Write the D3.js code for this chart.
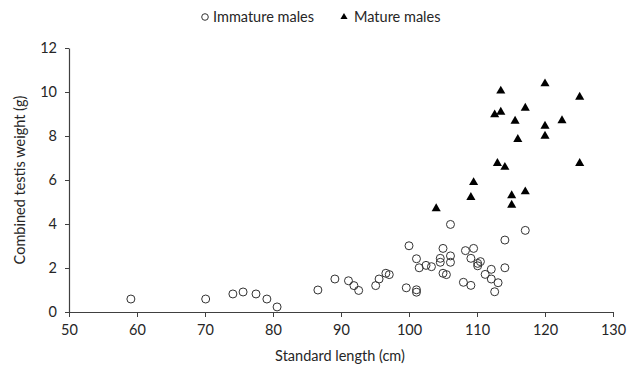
<!DOCTYPE html>
<html>
<head>
<meta charset="utf-8">
<script src="https://cdn.jsdelivr.net/npm/d3@7"></script>
<style>
  body { margin: 0; background: #fff; }
  text { font-family: Lato, "Open Sans", sans-serif; fill: #262626; }
</style>
</head>
<body>
<svg></svg>
<script>
const width = 627;
const height = 371;

// immature males: standard length (cm), combined testis weight (g)
const immatureLength = [59.1, 70.1, 74.1, 75.6, 77.5, 79.1, 80.6, 86.6, 89.1, 91.1, 91.9, 92.6,
    95.1, 95.6, 96.6, 97.1, 99.6, 100.0, 101.1, 101.1, 101.1, 101.5, 102.5, 103.3,
    104.6, 104.6, 105.0, 105.0, 105.5, 106.1, 106.1, 106.1, 108.0, 108.3, 109.1, 109.1,
    109.5, 110.1, 110.1, 110.5, 111.2, 112.1, 112.1, 112.6, 113.1, 114.1, 114.1, 117.1];
const immatureWeight = [0.59, 0.59, 0.82, 0.91, 0.82, 0.59, 0.23, 1.0, 1.5, 1.42, 1.2, 0.98,
    1.2, 1.5, 1.76, 1.7, 1.1, 3.01, 2.42, 1.01, 0.9, 2.01, 2.12, 2.06,
    2.44, 2.26, 2.89, 1.76, 1.7, 3.98, 2.55, 2.26, 1.35, 2.79, 2.44, 1.21,
    2.89, 2.21, 2.1, 2.29, 1.71, 1.94, 1.5, 0.92, 1.33, 2.01, 3.27, 3.71];

// mature males
const matureLength = [104.0, 109.1, 109.5, 112.6, 113.0, 113.5, 113.5, 114.1, 115.1, 115.1,
    115.6, 116.0, 117.1, 117.1, 120.0, 120.0, 120.0, 122.5, 125.1, 125.1];
const matureWeight = [4.7, 5.21, 5.89, 8.97, 6.76, 9.09, 10.05, 6.58, 5.29, 4.86,
    8.68, 7.85, 9.27, 5.47, 10.38, 8.45, 8.0, 8.7, 9.77, 6.76];

const xTicks = [50, 60, 70, 80, 90, 100, 110, 120, 130];
const yTicks = [0, 2, 4, 6, 8, 10, 12];
const seriesNames = ["Immature males", "Mature males"];

const immature = immatureLength.map((x, i) => ({x: x, y: immatureWeight[i]}));
const mature = matureLength.map((x, i) => ({x: x, y: matureWeight[i]}));

const svg = d3.select("svg")
    .attr("width", width)
    .attr("height", height);

const x = d3.scaleLinear().domain([50, 130]).range([69, 613]);
const y = d3.scaleLinear().domain([0, 12]).range([312, 48]);

const axisColor = "#404040";

const xAxis = svg.append("g")
    .attr("transform", `translate(0,${y(0)})`)
    .call(d3.axisBottom(x).tickValues(xTicks).tickSize(5).tickSizeOuter(0).tickPadding(8));
const yAxis = svg.append("g")
    .attr("transform", `translate(${x(50)},0)`)
    .call(d3.axisLeft(y).tickValues(yTicks).tickSize(4).tickSizeOuter(0).tickPadding(8));

[xAxis, yAxis].forEach(g => {
    g.select(".domain").attr("stroke", axisColor).attr("stroke-width", 1.2);
    g.selectAll(".tick line").attr("stroke", axisColor);
    g.selectAll(".tick text")
        .style("font-family", "Lato, 'Open Sans', sans-serif")
        .attr("font-size", 14.5)
        .attr("fill", "#262626");
});

svg.append("text")
    .attr("x", 340)
    .attr("y", 361)
    .attr("text-anchor", "middle")
    .attr("font-size", 14.5)
    .text("Standard length (cm)");

svg.append("text")
    .attr("transform", `translate(25,${y(6)}) rotate(-90)`)
    .attr("text-anchor", "middle")
    .attr("font-size", 14.5)
    .text("Combined testis weight (g)");

const triangle = d3.symbol().type(d3.symbolTriangle).size(36);

svg.append("g").selectAll("circle")
    .data(immature)
    .enter().append("circle")
    .attr("cx", d => x(d.x))
    .attr("cy", d => y(d.y))
    .attr("r", 4)
    .attr("fill", "none")
    .attr("stroke", "#333")
    .attr("stroke-width", 1);

svg.append("g").selectAll("path")
    .data(mature)
    .enter().append("path")
    .attr("d", triangle)
    .attr("transform", d => `translate(${x(d.x)},${y(d.y)})`)
    .attr("fill", "#000");

// legend
const legend = svg.append("g");
legend.append("circle")
    .attr("cx", 205).attr("cy", 17).attr("r", 3.3)
    .attr("fill", "none").attr("stroke", "#333");
legend.append("text")
    .attr("x", 213).attr("y", 22)
    .attr("font-size", 14.5)
    .text(seriesNames[0]);
legend.append("path")
    .attr("d", d3.symbol().type(d3.symbolTriangle).size(22))
    .attr("transform", "translate(344,17)")
    .attr("fill", "#000");
legend.append("text")
    .attr("x", 354).attr("y", 22)
    .attr("font-size", 14.5)
    .text(seriesNames[1]);
</script>
</body>
</html>
